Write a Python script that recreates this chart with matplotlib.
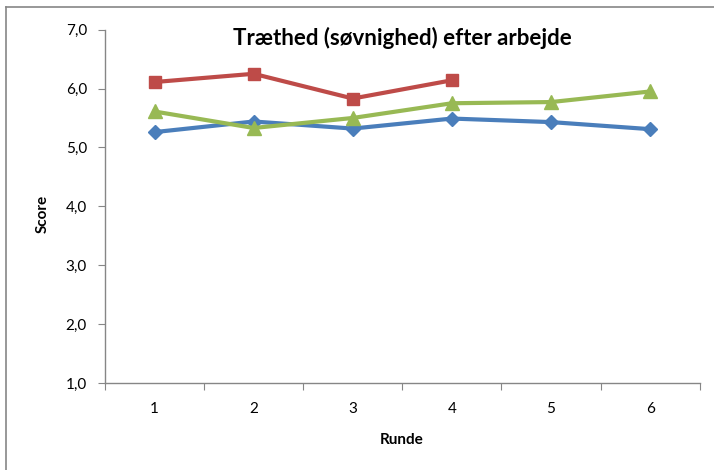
import matplotlib.pyplot as plt
from matplotlib.lines import Line2D

plt.rcParams['font.family'] = ['Lato', 'DejaVu Sans']

runder = [1, 2, 3, 4, 5, 6]
serie_blaa = [5.26, 5.44, 5.32, 5.49, 5.43, 5.31]
serie_roed = [6.11, 6.25, 5.83, 6.14]
serie_groen = [5.61, 5.33, 5.50, 5.75, 5.77, 5.95]
y_ticks = [1.0, 2.0, 3.0, 4.0, 5.0, 6.0, 7.0]

fig = plt.figure(figsize=(7.14, 4.70), dpi=100)
ax = fig.add_axes([0.147, 0.185, 0.833, 0.752])

# three series, Excel-style colours and markers
ax.plot(runder, serie_blaa, color='#4A7EBB', lw=3, marker='D', ms=7.5, zorder=3)
ax.plot(runder[:len(serie_roed)], serie_roed, color='#BE4B48', lw=3, marker='s', ms=9, zorder=3)
ax.plot(runder, serie_groen, color='#98B954', lw=3, marker='^', ms=10, zorder=3)

ax.set_xlim(0.5, 6.5)
ax.set_ylim(1, 7)

# category axis: ticks between categories, labels in the middle
ax.set_xticks([x + 0.5 for x in [0] + runder])
ax.set_xticklabels([])
ax.set_xticks(runder, minor=True)
ax.set_xticklabels([str(r) for r in runder], minor=True)
ax.tick_params(axis='x', which='minor', length=0, pad=14, labelsize=11)
ax.tick_params(axis='x', which='major', length=5, color='#868686', direction='out')

ax.set_yticks(y_ticks)
ax.set_yticklabels([f'{v:.1f}'.replace('.', ',') for v in y_ticks])
ax.tick_params(axis='y', length=5, color='#868686', labelsize=11, pad=8)

for s in ['top', 'right']:
    ax.spines[s].set_visible(False)
for s in ['left', 'bottom']:
    ax.spines[s].set_color('#868686')
    ax.spines[s].set_linewidth(1.0)

fig.text(0.06, 0.545, 'Score', rotation=90, ha='center', va='center',
         fontsize=11, fontweight='bold')
fig.text(0.563, 0.064, 'Runde', ha='center', va='center',
         fontsize=11, fontweight='bold')
fig.text(0.563, 0.919, 'Træthed (søvnighed) efter arbejde', ha='center', va='center',
         fontsize=16, fontweight='bold')

# frame edges (left and top) of the chart area
fig.add_artist(Line2D([0.009, 0.009], [0.0, 0.985], color='#868686', lw=1.2))
fig.add_artist(Line2D([0.009, 1.0], [0.985, 0.985], color='#868686', lw=1.2))

fig.savefig('out.png', dpi=100)
